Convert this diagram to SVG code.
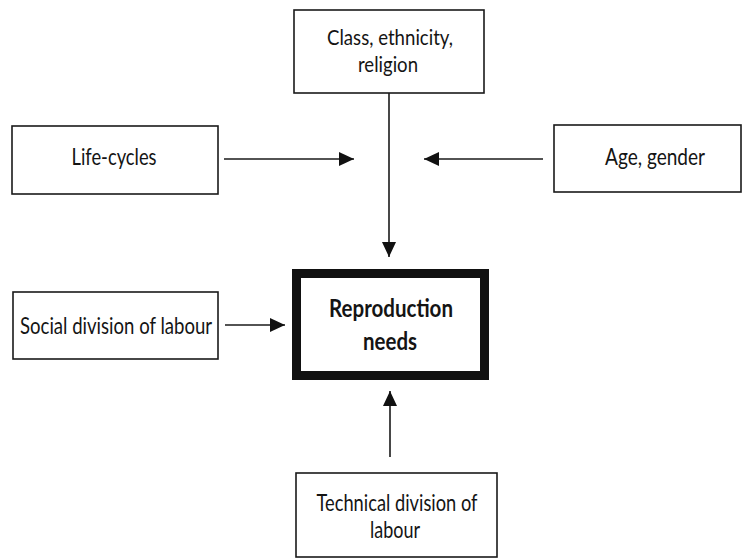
<svg xmlns="http://www.w3.org/2000/svg" width="744" height="559" viewBox="0 0 744 559">
  <style>
    .box { fill: #ffffff; stroke: #1a1a1a; stroke-width: 1.6; }
    .main { fill: #ffffff; stroke: #111111; stroke-width: 9; }
    .lbl { font-family: Lato, "Liberation Sans", sans-serif; font-size: 24px; fill: #141414; text-anchor: middle; }
    .sm { font-size: 22px; }
    .bold { font-weight: bold; font-size: 25px; }
    .edge { stroke: #1a1a1a; stroke-width: 1.6; fill: none; marker-end: url(#head); }
  </style>
  <defs>
    <marker id="head" markerUnits="userSpaceOnUse" markerWidth="16" markerHeight="14" refX="15" refY="7" orient="auto">
      <path d="M0,0 L15,7 L0,14 Z" fill="#111111"/>
    </marker>
  </defs>
  <rect width="744" height="559" fill="#ffffff"/>

  <g id="connectors">
    <line class="edge" x1="389" y1="93" x2="389" y2="257"/>
    <line class="edge" x1="224" y1="159" x2="354" y2="159"/>
    <line class="edge" x1="543" y1="159" x2="424" y2="159"/>
    <line class="edge" x1="225" y1="325" x2="285" y2="325"/>
    <line class="edge" x1="390" y1="457" x2="390" y2="391"/>
  </g>

  <g id="class-ethnicity-religion">
    <rect class="box" x="294" y="10" width="190" height="83"/>
    <text class="lbl sm" x="390" y="45" textLength="126" lengthAdjust="spacingAndGlyphs">Class, ethnicity,</text>
    <text class="lbl sm" x="388" y="72" textLength="60" lengthAdjust="spacingAndGlyphs">religion</text>
  </g>

  <g id="life-cycles">
    <rect class="box" x="12" y="126" width="206" height="68"/>
    <text class="lbl" x="114" y="165" textLength="85" lengthAdjust="spacingAndGlyphs">Life-cycles</text>
  </g>

  <g id="age-gender">
    <rect class="box" x="554" y="125" width="187" height="67"/>
    <text class="lbl" x="655" y="165" textLength="100" lengthAdjust="spacingAndGlyphs">Age, gender</text>
  </g>

  <g id="social-division">
    <rect class="box" x="13" y="292" width="205" height="67"/>
    <text class="lbl" x="116" y="334" textLength="192" lengthAdjust="spacingAndGlyphs">Social division of labour</text>
  </g>

  <g id="reproduction-needs">
    <rect class="main" x="296.5" y="273.5" width="188" height="102"/>
    <text class="lbl bold" x="391" y="317" textLength="124" lengthAdjust="spacingAndGlyphs">Reproduction</text>
    <text class="lbl bold" x="390" y="350" textLength="54" lengthAdjust="spacingAndGlyphs">needs</text>
  </g>

  <g id="technical-division">
    <rect class="box" x="296" y="473" width="201" height="84"/>
    <text class="lbl" x="397" y="511" textLength="161" lengthAdjust="spacingAndGlyphs">Technical division of</text>
    <text class="lbl" x="395" y="538" textLength="50" lengthAdjust="spacingAndGlyphs">labour</text>
  </g>
</svg>
